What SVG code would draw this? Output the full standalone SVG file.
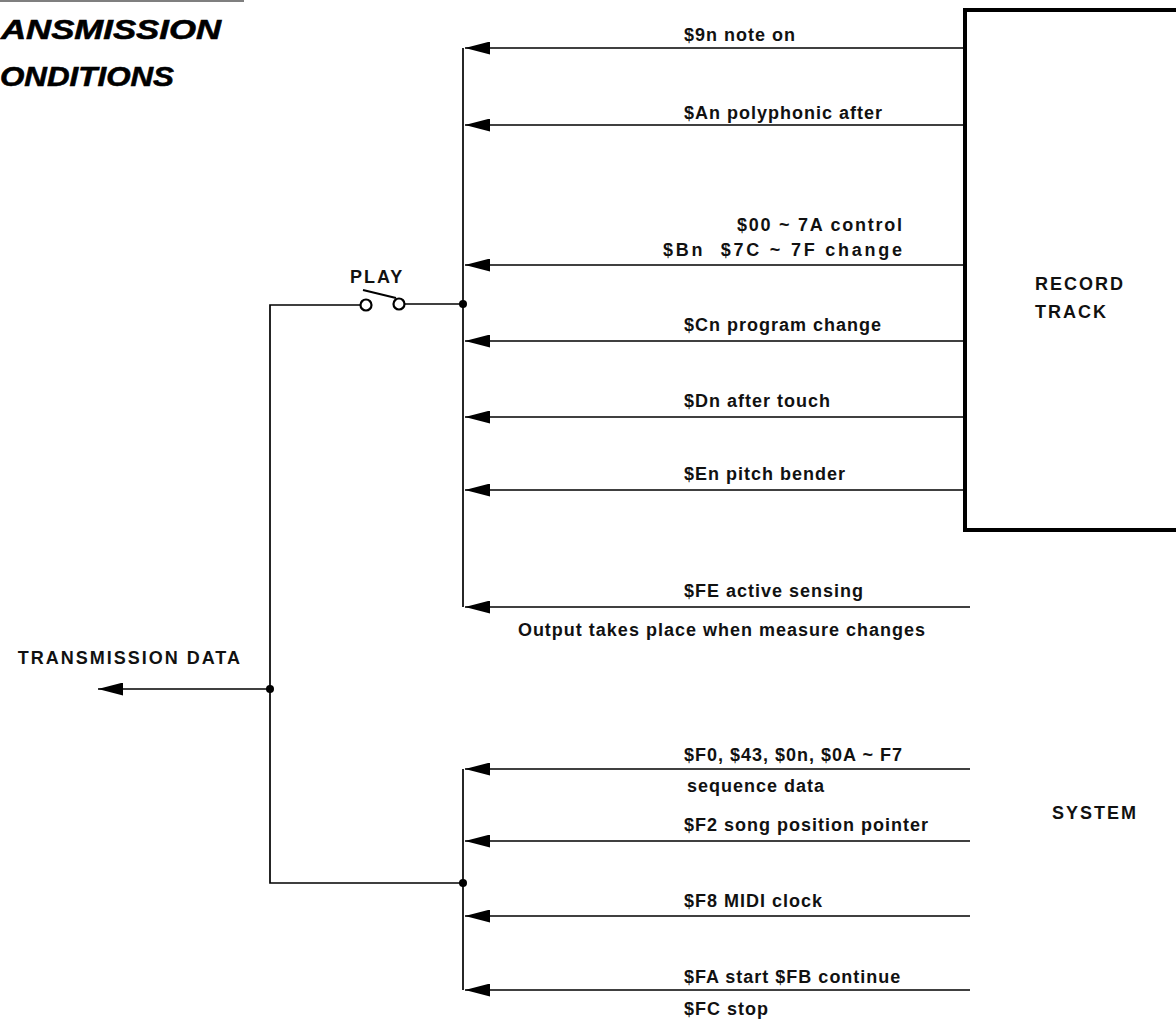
<svg xmlns="http://www.w3.org/2000/svg" width="1176" height="1019" viewBox="0 0 1176 1019">
<defs>
<style>
.ln{stroke:#000;stroke-width:1.7;fill:none}
.box{stroke:#000;stroke-width:4;fill:#fff}
.t{font-family:"Liberation Sans",Arial,sans-serif;font-size:18px;font-weight:bold;fill:#111;letter-spacing:1px}
.cap{letter-spacing:2px}
.title{font-family:"Liberation Sans",Arial,sans-serif;font-size:28px;font-weight:bold;font-style:italic;fill:#000;stroke:#000;stroke-width:0.6}
</style>
<marker id="ah" viewBox="0 0 25 13" refX="25" refY="6.5" markerWidth="25" markerHeight="13" markerUnits="userSpaceOnUse" orient="auto">
<path d="M25,6.5 L0,0 L0,13 Z" fill="#000"/>
</marker>
</defs>
<rect width="1176" height="1019" fill="#fff"/>
<line x1="0" y1="1" x2="244" y2="1" stroke="#000" stroke-width="1.2"/>
<text class="title" x="1" y="39" textLength="220" lengthAdjust="spacingAndGlyphs">ANSMISSION</text>
<text class="title" x="0" y="86" textLength="174" lengthAdjust="spacingAndGlyphs">ONDITIONS</text>

<g id="record-track">
<rect class="box" x="965" y="10" width="240" height="520"/>
<text class="t cap" x="1035" y="290">RECORD</text>
<text class="t cap" x="1035" y="318">TRACK</text>
</g>
<g id="system">
<text class="t cap" x="1052" y="819">SYSTEM</text>
</g>
<g id="play-switch">
<text class="t cap" x="350" y="283">PLAY</text>
<circle cx="366" cy="305" r="5.5" fill="#fff" stroke="#000" stroke-width="2.2"/>
<circle cx="399" cy="304" r="5.5" fill="#fff" stroke="#000" stroke-width="2.2"/>
<line x1="363" y1="290" x2="396" y2="298" stroke="#000" stroke-width="2.2"/>
</g>
<g id="transmission-data">
<text class="t cap" x="242" y="664" text-anchor="end">TRANSMISSION DATA</text>
</g>

<g id="connectors">
<line class="ln" x1="463" y1="48" x2="463" y2="607"/>
<line class="ln" x1="965" y1="48" x2="465" y2="48" marker-end="url(#ah)"/>
<line class="ln" x1="965" y1="125" x2="465" y2="125" marker-end="url(#ah)"/>
<line class="ln" x1="965" y1="265" x2="465" y2="265" marker-end="url(#ah)"/>
<line class="ln" x1="965" y1="341" x2="465" y2="341" marker-end="url(#ah)"/>
<line class="ln" x1="965" y1="417" x2="465" y2="417" marker-end="url(#ah)"/>
<line class="ln" x1="965" y1="490" x2="465" y2="490" marker-end="url(#ah)"/>
<line class="ln" x1="970" y1="607" x2="465" y2="607" marker-end="url(#ah)"/>
<polyline class="ln" points="360,305 270,305 270,883 463,883"/>
<line class="ln" x1="405" y1="304" x2="463" y2="304"/>
<circle cx="463" cy="304" r="4" fill="#000"/>
<line class="ln" x1="270" y1="689" x2="98" y2="689" marker-end="url(#ah)"/>
<circle cx="270" cy="689" r="4" fill="#000"/>
<line class="ln" x1="463" y1="769" x2="463" y2="990"/>
<circle cx="463" cy="883" r="4" fill="#000"/>
<line class="ln" x1="970" y1="769" x2="465" y2="769" marker-end="url(#ah)"/>
<line class="ln" x1="970" y1="841" x2="465" y2="841" marker-end="url(#ah)"/>
<line class="ln" x1="970" y1="916" x2="465" y2="916" marker-end="url(#ah)"/>
<line class="ln" x1="970" y1="990" x2="465" y2="990" marker-end="url(#ah)"/>
</g>

<g id="labels">
<text class="t" x="684" y="41">$9n note on</text>
<text class="t" x="684" y="119">$An polyphonic after</text>
<text class="t" x="737" y="231" textLength="166" lengthAdjust="spacing">$00 ~ 7A control</text>
<text class="t" x="663" y="256" textLength="240" lengthAdjust="spacing" xml:space="preserve">$Bn  $7C ~ 7F change</text>
<text class="t" x="684" y="331">$Cn program change</text>
<text class="t" x="684" y="407">$Dn after touch</text>
<text class="t" x="684" y="480">$En pitch bender</text>
<text class="t" x="684" y="597">$FE active sensing</text>
<text class="t" x="926" y="636" text-anchor="end">Output takes place when measure changes</text>
<text class="t" x="684" y="761">$F0, $43, $0n, $0A ~ F7</text>
<text class="t" x="687" y="792">sequence data</text>
<text class="t" x="684" y="831">$F2 song position pointer</text>
<text class="t" x="684" y="907">$F8 MIDI clock</text>
<text class="t" x="684" y="983">$FA start $FB continue</text>
<text class="t" x="684" y="1015">$FC stop</text>
</g>
</svg>
